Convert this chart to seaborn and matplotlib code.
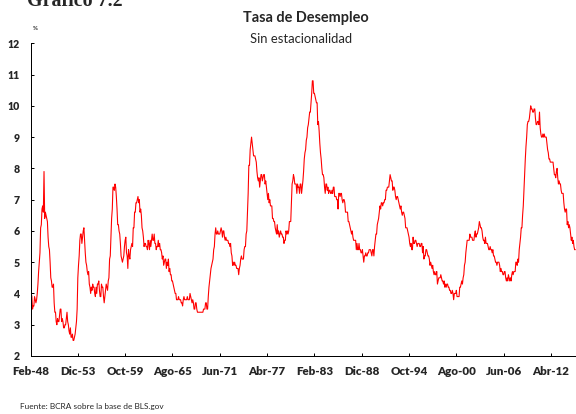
#!/usr/bin/env python3
import matplotlib
matplotlib.use('Agg')
import matplotlib.pyplot as plt
import seaborn as sns
import pandas as pd

# US unemployment rate, seasonally adjusted, monthly from Feb-1948 (%)
unemployment = [
    3.8, 4.0, 3.9, 3.5, 3.6, 3.6, 3.9, 3.8, 3.7, 3.8, 4.0,             # 1948
    4.3, 4.7, 5.0, 5.3, 6.1, 6.2, 6.7, 6.8, 6.6, 7.9, 6.4, 6.6,        # 1949
    6.5, 6.4, 6.3, 5.8, 5.5, 5.4, 5.0, 4.5, 4.4, 4.2, 4.2, 4.3,        # 1950
    3.7, 3.4, 3.4, 3.1, 3.0, 3.2, 3.1, 3.1, 3.3, 3.5, 3.5, 3.1,        # 1951
    3.2, 3.1, 2.9, 2.9, 3.0, 3.0, 3.2, 3.4, 3.1, 3.0, 2.8, 2.7,        # 1952
    2.9, 2.6, 2.6, 2.7, 2.5, 2.5, 2.6, 2.7, 2.9, 3.1, 3.5, 4.5,        # 1953
    4.9, 5.2, 5.7, 5.9, 5.9, 5.6, 5.8, 6.0, 6.1, 5.7, 5.3, 5.0,        # 1954
    4.9, 4.7, 4.6, 4.7, 4.3, 4.2, 4.0, 4.2, 4.1, 4.3, 4.2, 4.2,        # 1955
    4.0, 3.9, 4.2, 4.0, 4.3, 4.3, 4.4, 4.1, 3.9, 3.9, 4.3, 4.2,        # 1956
    4.2, 3.9, 3.7, 3.9, 4.1, 4.3, 4.2, 4.1, 4.4, 4.5, 5.1, 5.2,        # 1957
    5.8, 6.4, 6.7, 7.4, 7.4, 7.3, 7.5, 7.4, 7.1, 6.7, 6.2, 6.2,        # 1958
    6.0, 5.9, 5.6, 5.2, 5.1, 5.0, 5.1, 5.2, 5.5, 5.7, 5.8, 5.3,        # 1959
    5.2, 4.8, 5.4, 5.2, 5.1, 5.4, 5.5, 5.6, 5.5, 6.1, 6.1, 6.6,        # 1960
    6.6, 6.9, 6.9, 7.0, 7.1, 6.9, 7.0, 6.6, 6.7, 6.5, 6.1, 6.0,        # 1961
    5.8, 5.5, 5.6, 5.6, 5.5, 5.5, 5.4, 5.7, 5.6, 5.4, 5.7, 5.5,        # 1962
    5.7, 5.9, 5.7, 5.7, 5.9, 5.6, 5.6, 5.4, 5.5, 5.5, 5.7, 5.5,        # 1963
    5.6, 5.4, 5.4, 5.3, 5.1, 5.2, 4.9, 5.0, 5.1, 5.1, 4.8, 5.0,        # 1964
    4.9, 5.1, 4.7, 4.8, 4.6, 4.6, 4.4, 4.4, 4.3, 4.2, 4.1, 4.0,        # 1965
    4.0, 3.8, 3.8, 3.8, 3.9, 3.8, 3.8, 3.8, 3.7, 3.7, 3.6, 3.8,        # 1966
    3.9, 3.8, 3.8, 3.8, 3.8, 3.9, 3.8, 3.8, 3.8, 4.0, 3.9, 3.8,        # 1967
    3.7, 3.8, 3.7, 3.5, 3.5, 3.7, 3.7, 3.5, 3.4, 3.4, 3.4, 3.4,        # 1968
    3.4, 3.4, 3.4, 3.4, 3.4, 3.5, 3.5, 3.5, 3.7, 3.7, 3.5, 3.5,        # 1969
    3.9, 4.2, 4.4, 4.6, 4.8, 4.9, 5.0, 5.1, 5.4, 5.5, 5.9, 6.1,        # 1970
    5.9, 5.9, 6.0, 5.9, 5.9, 5.9, 6.0, 6.1, 6.0, 5.8, 6.0, 6.0,        # 1971
    5.8, 5.7, 5.8, 5.7, 5.7, 5.7, 5.6, 5.6, 5.5, 5.6, 5.3, 5.2,        # 1972
    4.9, 5.0, 4.9, 5.0, 4.9, 4.9, 4.8, 4.8, 4.8, 4.6, 4.8, 4.9,        # 1973
    5.1, 5.2, 5.1, 5.1, 5.1, 5.4, 5.5, 5.5, 5.9, 6.0, 6.6, 7.2,        # 1974
    8.1, 8.1, 8.6, 8.8, 9.0, 8.8, 8.6, 8.4, 8.4, 8.4, 8.3, 8.2,        # 1975
    7.9, 7.7, 7.6, 7.7, 7.4, 7.6, 7.8, 7.8, 7.6, 7.7, 7.8, 7.8,        # 1976
    7.5, 7.6, 7.4, 7.2, 7.0, 7.2, 6.9, 7.0, 6.8, 6.8, 6.8, 6.4,        # 1977
    6.4, 6.3, 6.3, 6.1, 6.0, 5.9, 6.2, 5.9, 6.0, 5.8, 5.9, 6.0,        # 1978
    5.9, 5.9, 5.8, 5.8, 5.6, 5.7, 5.7, 6.0, 5.9, 6.0, 5.9, 6.0,        # 1979
    6.3, 6.3, 6.3, 6.9, 7.5, 7.6, 7.8, 7.7, 7.5, 7.5, 7.5, 7.2,        # 1980
    7.5, 7.4, 7.4, 7.2, 7.5, 7.5, 7.2, 7.4, 7.6, 7.9, 8.3, 8.5,        # 1981
    8.6, 8.9, 9.0, 9.3, 9.4, 9.6, 9.8, 9.8, 10.1, 10.4, 10.8, 10.8,    # 1982
    10.4, 10.4, 10.3, 10.2, 10.1, 10.1, 9.4, 9.5, 9.2, 8.8, 8.5, 8.3,  # 1983
    8.0, 7.8, 7.8, 7.7, 7.4, 7.2, 7.5, 7.5, 7.3, 7.4, 7.2, 7.3,        # 1984
    7.3, 7.2, 7.2, 7.3, 7.2, 7.4, 7.4, 7.1, 7.1, 7.1, 7.0, 7.0,        # 1985
    6.7, 7.2, 7.2, 7.1, 7.2, 7.2, 7.0, 6.9, 7.0, 7.0, 6.9, 6.6,        # 1986
    6.6, 6.6, 6.6, 6.3, 6.3, 6.2, 6.1, 6.0, 5.9, 6.0, 5.8, 5.7,        # 1987
    5.7, 5.7, 5.7, 5.4, 5.6, 5.4, 5.4, 5.6, 5.4, 5.4, 5.3, 5.3,        # 1988
    5.4, 5.2, 5.0, 5.2, 5.2, 5.3, 5.2, 5.2, 5.3, 5.3, 5.4, 5.4,        # 1989
    5.4, 5.3, 5.2, 5.4, 5.4, 5.2, 5.5, 5.7, 5.9, 5.9, 6.2, 6.3,        # 1990
    6.4, 6.6, 6.8, 6.7, 6.9, 6.9, 6.8, 6.9, 6.9, 7.0, 7.0, 7.3,        # 1991
    7.3, 7.4, 7.4, 7.4, 7.6, 7.8, 7.7, 7.6, 7.6, 7.3, 7.4, 7.4,        # 1992
    7.3, 7.1, 7.0, 7.1, 7.1, 7.0, 6.9, 6.8, 6.7, 6.8, 6.6, 6.5,        # 1993
    6.6, 6.6, 6.5, 6.4, 6.1, 6.1, 6.1, 6.0, 5.9, 5.8, 5.6, 5.5,        # 1994
    5.6, 5.4, 5.4, 5.8, 5.6, 5.6, 5.7, 5.7, 5.6, 5.5, 5.6, 5.6,        # 1995
    5.6, 5.5, 5.5, 5.6, 5.6, 5.3, 5.5, 5.1, 5.2, 5.2, 5.4, 5.4,        # 1996
    5.3, 5.2, 5.2, 5.1, 4.9, 5.0, 4.9, 4.8, 4.9, 4.7, 4.6, 4.7,        # 1997
    4.6, 4.6, 4.7, 4.3, 4.4, 4.5, 4.5, 4.5, 4.6, 4.5, 4.4, 4.4,        # 1998
    4.3, 4.4, 4.2, 4.3, 4.2, 4.3, 4.3, 4.2, 4.2, 4.1, 4.1, 4.0,        # 1999
    4.0, 4.1, 4.0, 3.8, 4.0, 4.0, 4.0, 4.1, 3.9, 3.9, 3.9, 3.9,        # 2000
    4.2, 4.2, 4.3, 4.4, 4.3, 4.5, 4.6, 4.9, 5.0, 5.3, 5.5, 5.7,        # 2001
    5.7, 5.7, 5.7, 5.9, 5.8, 5.8, 5.8, 5.7, 5.7, 5.7, 5.9, 6.0,        # 2002
    5.8, 5.9, 5.9, 6.0, 6.1, 6.3, 6.2, 6.1, 6.1, 6.0, 5.8, 5.7,        # 2003
    5.7, 5.6, 5.8, 5.6, 5.6, 5.6, 5.5, 5.4, 5.4, 5.5, 5.4, 5.4,        # 2004
    5.3, 5.4, 5.2, 5.2, 5.1, 5.0, 5.0, 4.9, 5.0, 5.0, 5.0, 4.9,        # 2005
    4.7, 4.8, 4.7, 4.7, 4.6, 4.6, 4.7, 4.7, 4.5, 4.4, 4.5, 4.4,        # 2006
    4.6, 4.5, 4.4, 4.5, 4.4, 4.6, 4.7, 4.6, 4.7, 4.7, 4.7, 5.0,        # 2007
    5.0, 4.9, 5.1, 5.0, 5.4, 5.6, 5.8, 6.1, 6.1, 6.5, 6.8, 7.3,        # 2008
    7.8, 8.3, 8.7, 9.0, 9.4, 9.5, 9.5, 9.6, 9.8, 10.0, 9.9, 9.9,       # 2009
    9.8, 9.8, 9.9, 9.9, 9.6, 9.4, 9.4, 9.5, 9.5, 9.4, 9.8, 9.3,        # 2010
    9.1, 9.0, 9.0, 9.1, 9.0, 9.1, 9.0, 9.0, 9.0, 8.8, 8.6, 8.5,        # 2011
    8.3, 8.3, 8.2, 8.2, 8.2, 8.2, 8.2, 8.0, 7.8, 7.8, 7.7, 7.9,        # 2012
    8.0, 7.7, 7.5, 7.6, 7.5, 7.5, 7.3, 7.2, 7.2, 7.2, 6.9, 6.7,        # 2013
    6.6, 6.7, 6.7, 6.2, 6.3, 6.1, 6.2, 6.1, 5.9, 5.7, 5.8, 5.6,        # 2014
    5.7, 5.5, 5.4, 5.4,                                                # 2015
]

tick_labels = ['Feb-48', 'Dic-53', 'Oct-59', 'Ago-65', 'Jun-71', 'Abr-77',
               'Feb-83', 'Dic-88', 'Oct-94', 'Ago-00', 'Jun-06', 'Abr-12']
tick_step = 70  # months between labels

df = pd.DataFrame({'month': range(len(unemployment)), 'rate': unemployment})

sns.set_theme(style='white')
plt.rcParams['font.family'] = ['Lato', 'DejaVu Sans']

fig = plt.figure(figsize=(8, 5.75), dpi=72)
ax = fig.add_axes([30.5 / 576, 58 / 414, 1 - 30.5 / 576, (356 - 43.3) / 414])

sns.lineplot(data=df, x='month', y='rate', color='#ff0000', linewidth=1.1, ax=ax)

ax.set_xlim(0, 807)
ax.set_ylim(2, 12)
ax.set_yticks(range(2, 13))
ax.set_yticklabels([str(v) for v in range(2, 13)], fontsize=10.5, fontweight='heavy')
ax.set_xticks([i * tick_step for i in range(len(tick_labels))])
ax.set_xticklabels(tick_labels, fontsize=11.5, fontweight='heavy')
ax.set_xlabel('')
ax.set_ylabel('')

for side in ['top', 'right']:
    ax.spines[side].set_visible(False)
for side in ['left', 'bottom']:
    ax.spines[side].set_color('black')
    ax.spines[side].set_linewidth(1.0)
ax.tick_params(axis='both', direction='in', length=3, width=1, color='black',
               left=True, bottom=True)
ax.tick_params(axis='y', pad=11)
ax.tick_params(axis='x', pad=10)

# Titles and notes
fig.text(27 / 576, 1 - 1 / 414, 'Gráfico 7.2', fontsize=20, fontweight='bold',
         family='Liberation Serif', ha='left', va='center')
fig.text(306 / 576, 1 - 18 / 414, 'Tasa de Desempleo', fontsize=14.5,
         fontweight='bold', ha='center', va='center')
fig.text(301 / 576, 1 - 39 / 414, 'Sin estacionalidad', fontsize=13,
         ha='center', va='center')
fig.text(35 / 576, 1 - 29 / 414, '%', fontsize=6, fontweight='bold',
         ha='center', va='center')
fig.text(20 / 576, 1 - 407 / 414, 'Fuente: BCRA sobre la base de BLS.gov',
         fontsize=8.2, ha='left', va='center')

plt.savefig('out.png', dpi=72)
